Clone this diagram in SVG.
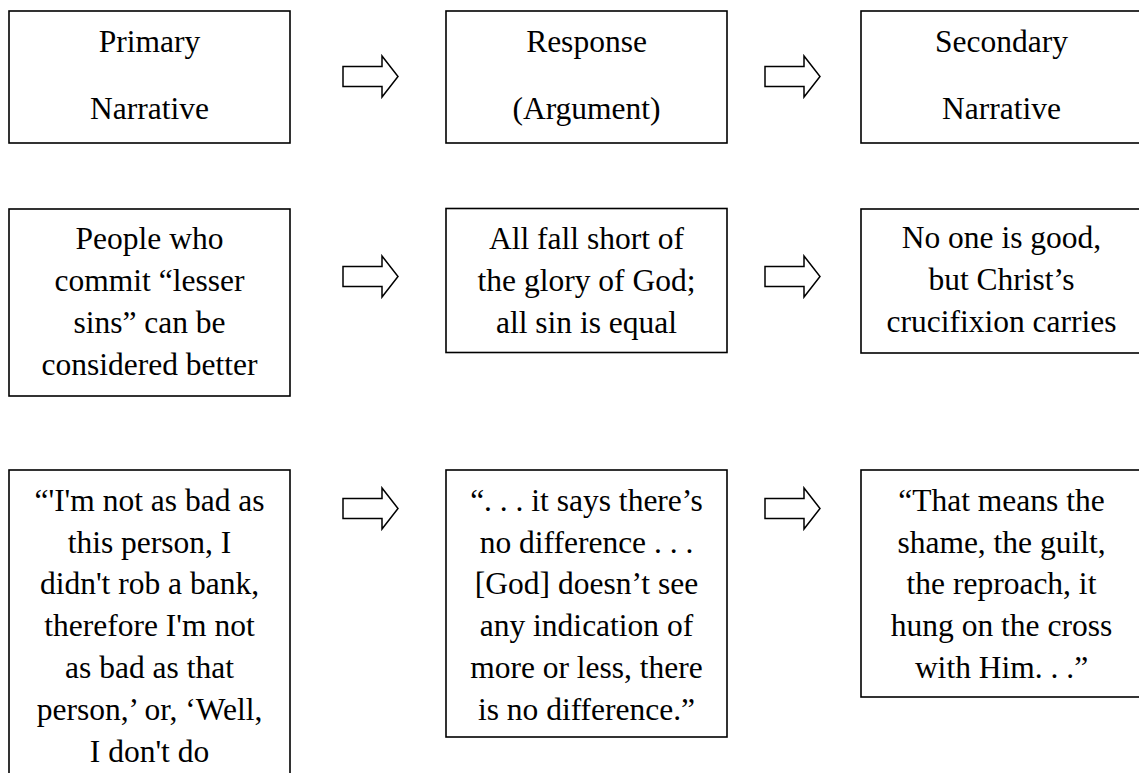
<svg xmlns="http://www.w3.org/2000/svg" width="1139" height="773" viewBox="0 0 1139 773">
  <style>
    .box { fill: #ffffff; stroke: #000000; stroke-width: 1.6; }
    .arrow { fill: #ffffff; stroke: #000000; stroke-width: 1.5; stroke-linejoin: miter; }
    text { font-family: "Liberation Serif", "Times New Roman", serif; font-size: 31.5px; fill: #000000; text-anchor: middle; }
  </style>
  <defs>
    <!-- block arrow, origin at the left end of the shaft, centred vertically -->
    <polygon id="blockArrow" points="0,-10 39,-10 39,-20.5 55,0 39,20.5 39,10 0,10"/>
  </defs>
  <rect width="1139" height="773" fill="#ffffff"/>

  <!-- row 1: headings -->
  <g id="primary-narrative">
    <rect class="box" x="9" y="11" width="281" height="132"/>
    <text x="149.5" y="52">Primary</text>
    <text x="149.5" y="119">Narrative</text>
  </g>
  <g id="response-argument">
    <rect class="box" x="446" y="11" width="281" height="132"/>
    <text x="586.5" y="52">Response</text>
    <text x="586.5" y="119">(Argument)</text>
  </g>
  <g id="secondary-narrative">
    <rect class="box" x="861" y="11" width="281" height="132"/>
    <text x="1001.5" y="52">Secondary</text>
    <text x="1001.5" y="119">Narrative</text>
  </g>

  <!-- row 2: summaries -->
  <g id="lesser-sins">
    <rect class="box" x="9" y="209" width="281" height="187"/>
    <text x="149.5" y="248.5">People who</text>
    <text x="149.5" y="290.5">commit “lesser</text>
    <text x="149.5" y="332.5">sins” can be</text>
    <text x="149.5" y="374.5">considered better</text>
  </g>
  <g id="all-fall-short">
    <rect class="box" x="446" y="208.5" width="281" height="144"/>
    <text x="586.5" y="248.5">All fall short of</text>
    <text x="586.5" y="290.5">the glory of God;</text>
    <text x="586.5" y="332.5">all sin is equal</text>
  </g>
  <g id="no-one-is-good">
    <rect class="box" x="861" y="209" width="281" height="144"/>
    <text x="1001.5" y="247.5">No one is good,</text>
    <text x="1001.5" y="290">but Christ’s</text>
    <text x="1001.5" y="332">crucifixion carries</text>
  </g>

  <!-- row 3: quotations -->
  <g id="quote-not-as-bad">
    <rect class="box" x="9" y="470" width="281" height="320"/>
    <text x="149.5" y="510.5">“'I'm not as bad as</text>
    <text x="149.5" y="552.5">this person, I</text>
    <text x="149.5" y="594">didn't rob a bank,</text>
    <text x="149.5" y="636">therefore I'm not</text>
    <text x="149.5" y="678">as bad as that</text>
    <text x="149.5" y="719.5">person,’ or, ‘Well,</text>
    <text x="149.5" y="761.5">I don't do</text>
  </g>
  <g id="quote-no-difference">
    <rect class="box" x="446" y="470" width="281" height="267"/>
    <text x="586.5" y="510.5">“. . . it says there’s</text>
    <text x="586.5" y="552.5">no difference . . .</text>
    <text x="586.5" y="594">[God] doesn’t see</text>
    <text x="586.5" y="636">any indication of</text>
    <text x="586.5" y="678">more or less, there</text>
    <text x="586.5" y="719.5">is no difference.”</text>
  </g>
  <g id="quote-the-shame">
    <rect class="box" x="861" y="470" width="281" height="227"/>
    <text x="1001.5" y="510.5">“That means the</text>
    <text x="1001.5" y="552.5">shame, the guilt,</text>
    <text x="1001.5" y="594">the reproach, it</text>
    <text x="1001.5" y="636">hung on the cross</text>
    <text x="1001.5" y="678">with Him. . .”</text>
  </g>

  <!-- connectors -->
  <g id="connectors">
    <use href="#blockArrow" class="arrow" x="343" y="76.5"/>
    <use href="#blockArrow" class="arrow" x="765" y="76.5"/>
    <use href="#blockArrow" class="arrow" x="343" y="276.5"/>
    <use href="#blockArrow" class="arrow" x="765" y="276.5"/>
    <use href="#blockArrow" class="arrow" x="343" y="508.5"/>
    <use href="#blockArrow" class="arrow" x="765" y="508.5"/>
  </g>
</svg>
